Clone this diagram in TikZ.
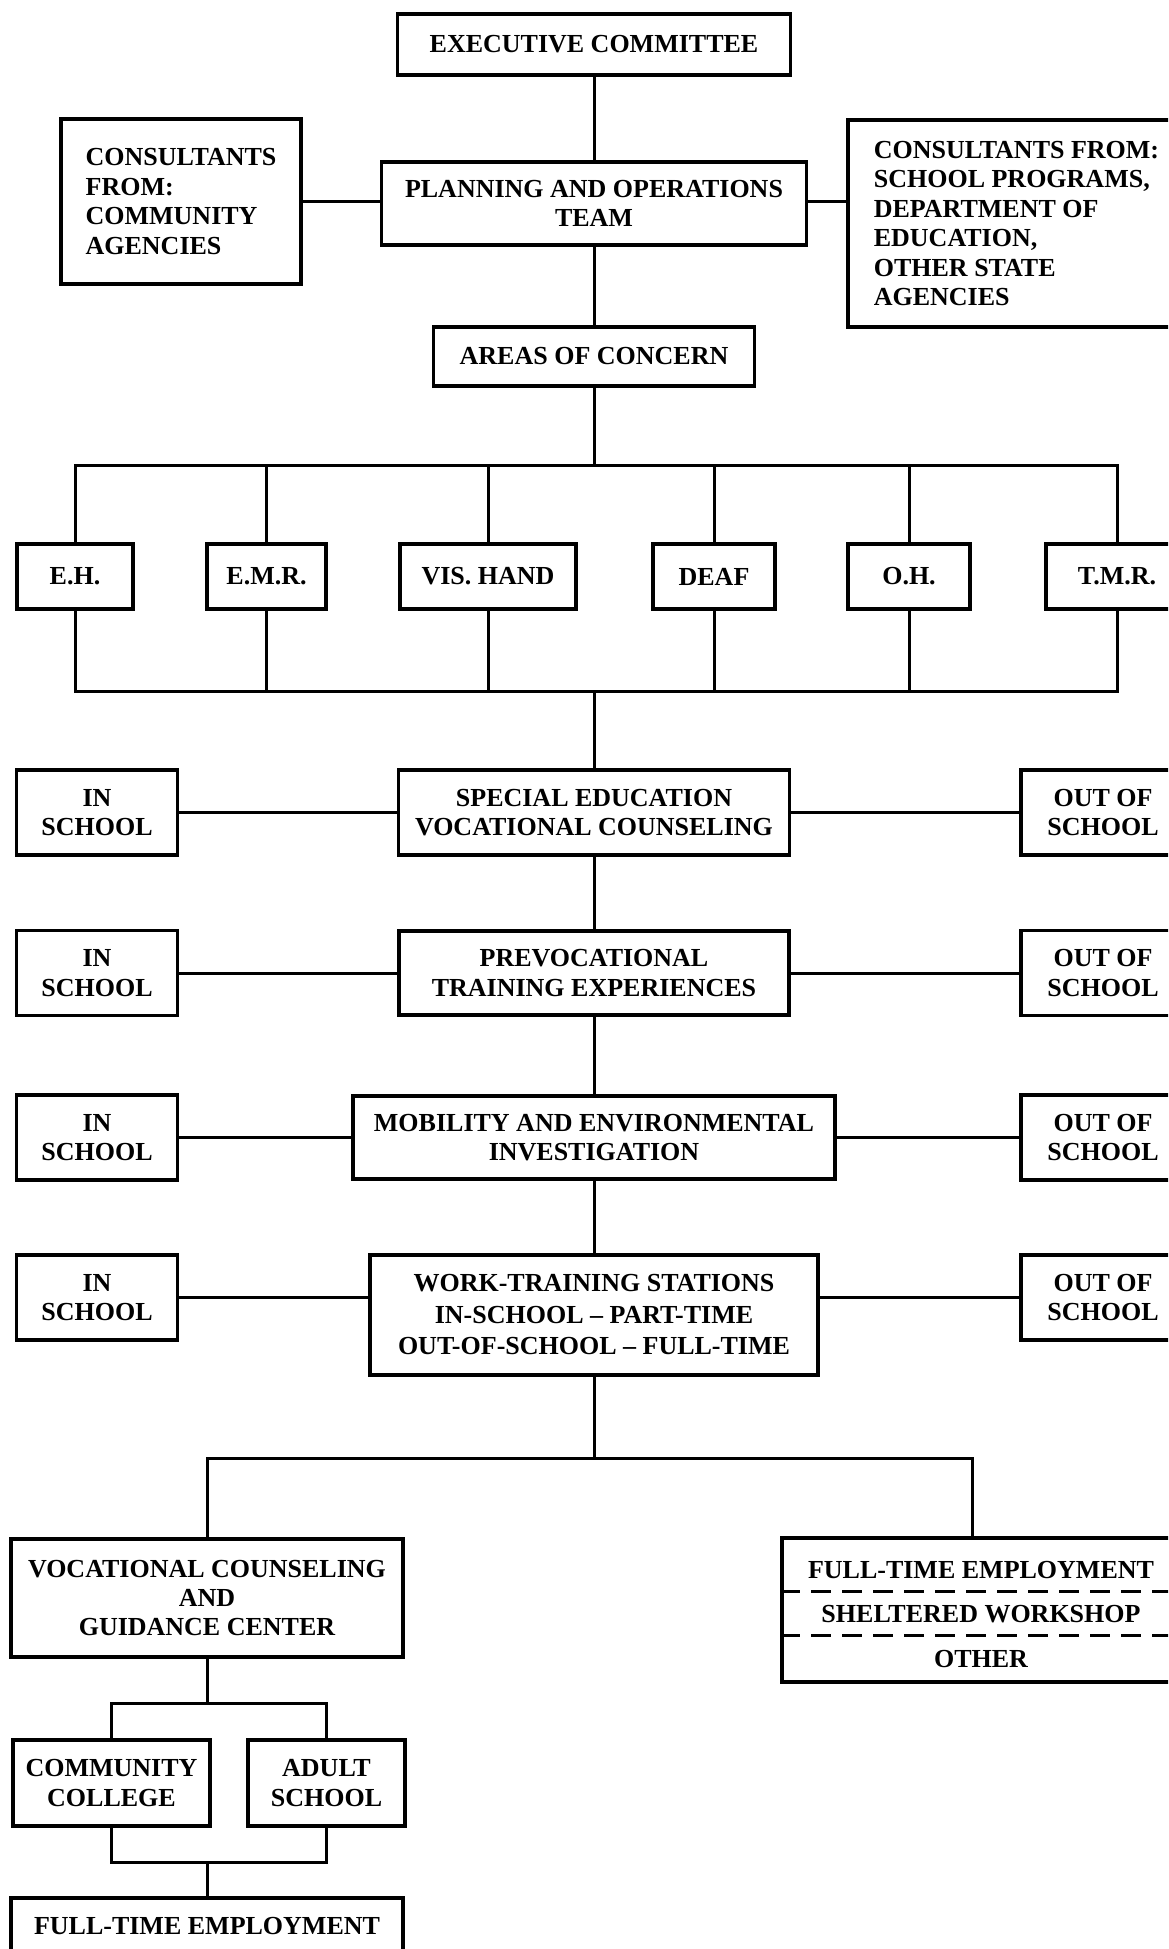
\documentclass[tikz,border=0pt]{standalone}
\usepackage{fontspec}
\setmainfont{Liberation Serif}
\begin{document}
\begin{tikzpicture}[x=1pt,y=-1pt,
  box/.style={draw, line width=3.3pt, inner sep=0pt, align=center,
    font=\bfseries\fontsize{26}{29.5}\selectfont},
  txt/.style={inner sep=0pt, font=\bfseries\fontsize{26}{29.5}\selectfont},
  link/.style={line width=3pt},
  sep/.style={line width=3pt, dash pattern=on 20pt off 11pt}]
\useasboundingbox (0,0) rectangle (1168,1949);
\fill[white] (0,0) rectangle (1168,1949);
\clip (0,0) rectangle (1168,1949);

% --- top of the chart
\node[box, minimum width=393pt, minimum height=61pt] (exec) at (594,44.5) {EXECUTIVE COMMITTEE};
\node[box, minimum width=425pt, minimum height=83pt] (plan) at (594,203.5) {PLANNING AND OPERATIONS\\TEAM};
\node[box, align=left, minimum width=240pt, minimum height=165pt] (consL) at (181,201.5)
  {CONSULTANTS\\FROM:\\COMMUNITY\\AGENCIES};
\node[box, align=left, minimum width=337pt, minimum height=207pt] (consR) at (1016.5,223.5)
  {CONSULTANTS FROM:\\SCHOOL PROGRAMS,\\DEPARTMENT OF\\EDUCATION,\\OTHER STATE\\AGENCIES};
\node[box, minimum width=321pt, minimum height=59pt] (areas) at (594,356.5) {AREAS OF CONCERN};

\draw[link] (exec) -- (plan);
\draw[link] (plan) -- (areas);
\draw[link] (consL.east) -- (consL.east -| plan.west);
\draw[link] (plan.east |- consL.east) -- (consL.east -| consR.west);

% --- areas of concern
\foreach \n/\cx/\w/\t in {eh/75/116/E.H., emr/266.5/119/E.M.R., vis/488/176/VIS. HAND,
    deaf/714/122/DEAF, oh/909/122/O.H., tmr/1117/142/T.M.R.}{
  \node[box, minimum width=\w pt, minimum height=65pt] (\n) at (\cx,576.5) {\t};
}
\coordinate (busT) at (594,465);
\coordinate (busB) at (594,691);
\draw[link] (areas) -- (busT);
\draw[link] (eh) |- (busT) -| (tmr);
\draw[link] (eh) |- (busB) -| (tmr);
\foreach \n in {emr,vis,deaf,oh}{
  \draw[link] (\n) -- (\n.north |- busT);
  \draw[link] (\n) -- (\n.south |- busB);
}

% --- programme rows
\node[box, minimum width=391pt, minimum height=85pt] (sevc) at (594,812.5) {SPECIAL EDUCATION\\VOCATIONAL COUNSELING};
\node[box, minimum width=390pt, minimum height=84pt] (prev) at (594,973) {PREVOCATIONAL\\TRAINING EXPERIENCES};
\node[box, minimum width=482pt, minimum height=83pt] (mobi) at (594,1137.5) {MOBILITY AND ENVIRONMENTAL\\INVESTIGATION};
\node[box, minimum width=448pt, minimum height=120pt,
  font=\bfseries\fontsize{26}{31.5}\selectfont] (work) at (594,1315)
  {WORK-TRAINING STATIONS\\IN-SCHOOL – PART-TIME\\OUT-OF-SCHOOL – FULL-TIME};

\foreach \i/\cy in {1/812.5, 2/973, 3/1137.5, 4/1297.5}{
  \node[box, minimum width=161pt, minimum height=85pt] (in\i) at (97,\cy) {IN\\SCHOOL};
  \node[box, minimum width=164pt, minimum height=85pt] (out\i) at (1103,\cy) {OUT OF\\SCHOOL};
}
\draw[link] (busB) -- (sevc);
\draw[link] (sevc) -- (prev);
\draw[link] (prev) -- (mobi);
\draw[link] (mobi) -- (work);
\draw[link] (in1) -- (sevc);  \draw[link] (sevc) -- (out1);
\draw[link] (in2) -- (prev);  \draw[link] (prev) -- (out2);
\draw[link] (in3) -- (mobi);  \draw[link] (mobi) -- (out3);
\draw[link] (in4.east) -- (in4.east -| work.west);
\draw[link] (work.east |- out4.west) -- (out4.west);

% --- after work training
\node[box, minimum width=392pt, minimum height=118pt,
  font=\bfseries\fontsize{26}{29}\selectfont] (voc) at (207,1598)
  {VOCATIONAL COUNSELING\\AND\\GUIDANCE CENTER};
\node[box, minimum width=398pt, minimum height=144pt] (emp) at (981,1610) {};
\node[txt, anchor=base] (emp1) at (981,1578) {FULL-TIME EMPLOYMENT};
\node[txt, anchor=base] (emp2) at (981,1622) {SHELTERED WORKSHOP};
\node[txt, anchor=base] (emp3) at (981,1667) {OTHER};
\coordinate (d1) at (0,1591);
\coordinate (d2) at (0,1635);
\draw[sep] (emp.west |- d1) -- (emp.east |- d1);
\draw[sep] (emp.west |- d2) -- (emp.east |- d2);

\coordinate (busW) at (594,1458);
\coordinate (busR) at (972,1458);
\draw[link] (work) -- (busW);
\draw[link] (voc) |- (busR) -- (busR |- emp.north);

% --- further study and employment
\node[box, minimum width=197pt, minimum height=86pt] (cc) at (111.5,1783) {COMMUNITY\\COLLEGE};
\node[box, minimum width=157pt, minimum height=86pt] (adult) at (326.5,1783) {ADULT\\SCHOOL};
\node[box, minimum width=392pt, minimum height=56pt] (ftb) at (207,1926) {FULL-TIME EMPLOYMENT};
\coordinate (sbT) at (207,1703);
\coordinate (sbB) at (207,1862);
\draw[link] (voc) -- (sbT);
\draw[link] (cc) |- (sbT) -| (adult);
\draw[link] (cc) |- (sbB) -| (adult);
\draw[link] (sbB) -- (ftb);
\end{tikzpicture}
\end{document}
